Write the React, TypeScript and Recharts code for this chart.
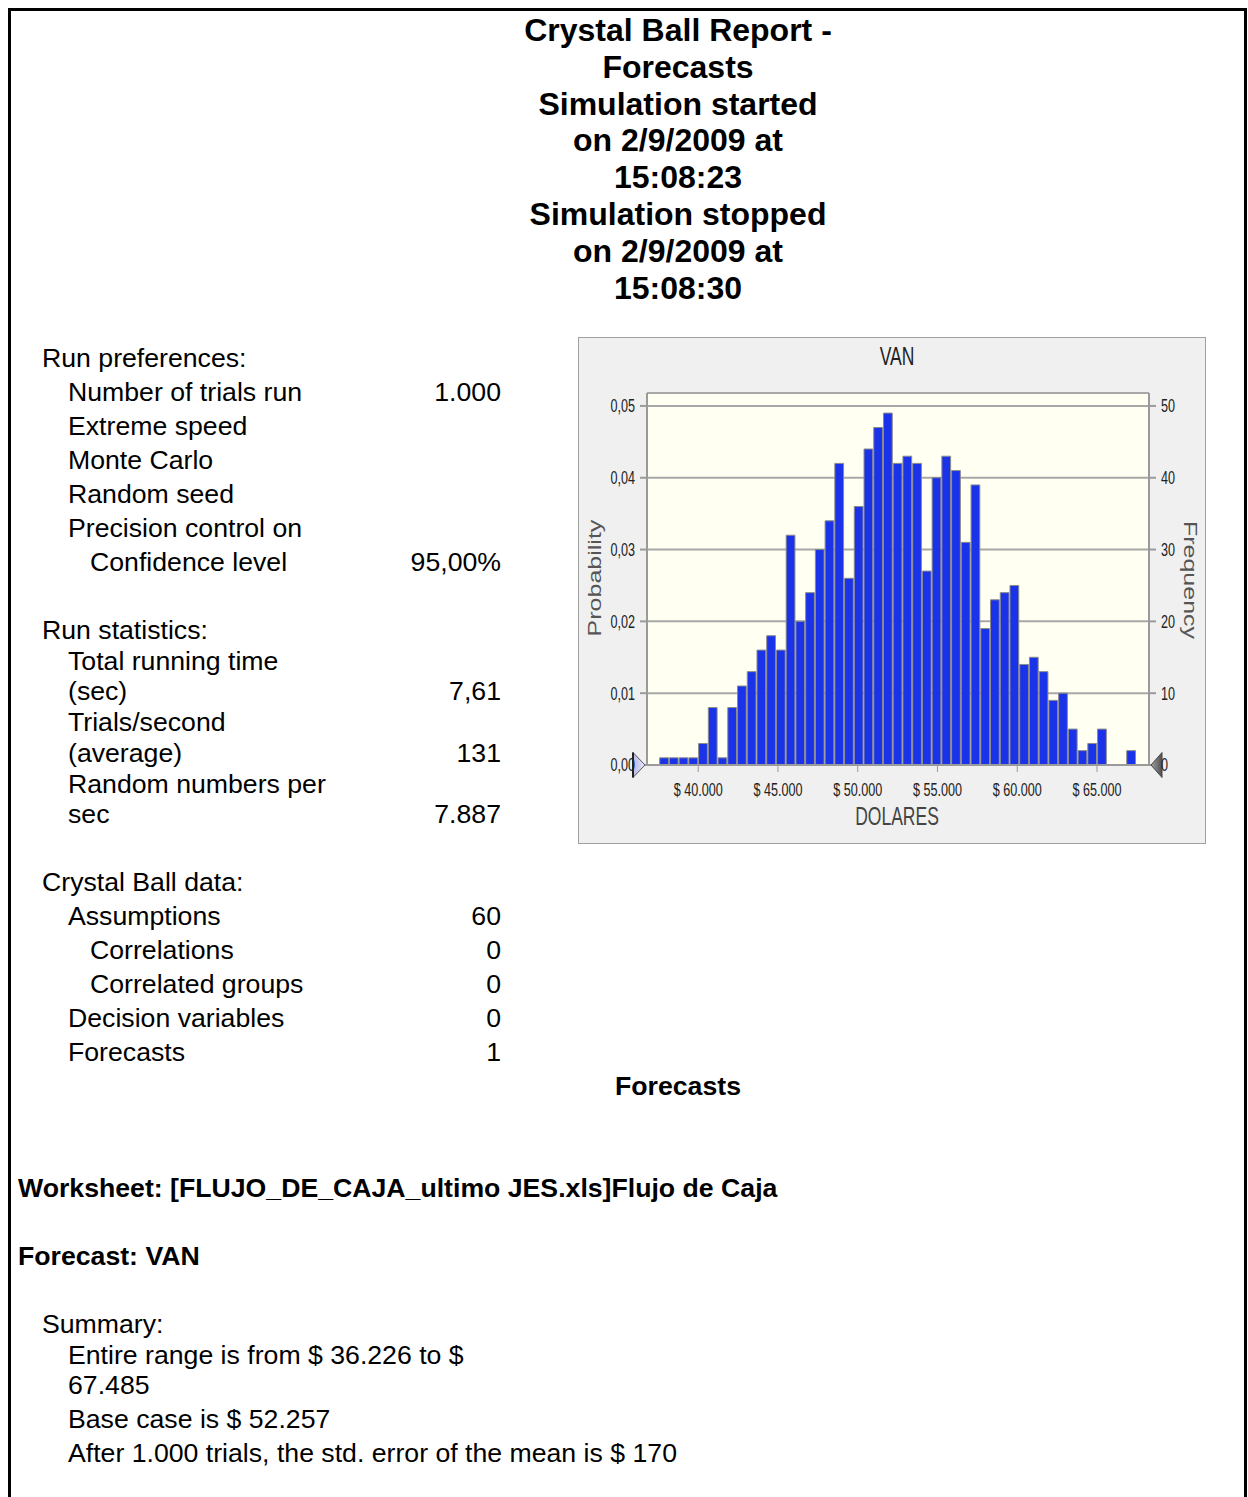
import React from 'react';
import { ComposedChart, Bar, XAxis, YAxis, CartesianGrid, ReferenceDot } from 'recharts';

// ---- Histogram data (VAN forecast, 1.000 trials) ----
const FREQUENCIES = [
  1, 1, 1, 1, 3, 8, 1, 8, 11, 13,
  16, 18, 16, 32, 20, 24, 30, 34, 42, 26,
  36, 44, 47, 49, 42, 43, 42, 27, 40, 43,
  41, 31, 39, 19, 23, 24, 25, 14, 15, 13,
  9, 10, 5, 2, 3, 5, 0, 0, 2,
];
const HIST_START = 37585;
const BIN_WIDTH = 610;
const TRIALS = 1000;
const X_MIN = 36790;
const X_MAX = 68260;
const X_TICKS = [40000, 45000, 50000, 55000, 60000, 65000];
const FREQ_TICKS = [0, 10, 20, 30, 40, 50];
const PROB_TICKS = [0, 0.01, 0.02, 0.03, 0.04, 0.05];
const FREQ_TOP = 51.8;

// ---- Report text ----
const TITLE_LINES = [
  'Crystal Ball Report -',
  'Forecasts',
  'Simulation started',
  'on 2/9/2009 at',
  '15:08:23',
  'Simulation stopped',
  'on 2/9/2009 at',
  '15:08:30',
];

const data = FREQUENCIES.map((f, i) => ({ mid: HIST_START + (i + 0.5) * BIN_WIDTH, freq: f }));

const SANS = "'Liberation Sans', Arial, sans-serif";
const SQ = 0.7; // horizontal squeeze of the chart's lettering

const CHART_W = 626;
const CHART_H = 505;
const MARGIN = { top: 55, right: 26, bottom: 38, left: 38 };
const PLOT_W = CHART_W - MARGIN.left - MARGIN.right - 60;
const BAR_PX = (BIN_WIDTH * PLOT_W) / (X_MAX - X_MIN);

const fmtMoney = (v: number) => '$ ' + String(Math.round(v / 1000)) + '.000';
const fmtProb = (v: number) => v.toFixed(2).replace('.', ',');

const XTick = (props: any) => {
  const { x, y, payload } = props;
  return (
    <g transform={`translate(${x},${y})`}>
      <text
        x={0}
        y={0}
        dy="0.71em"
        textAnchor="middle"
        transform={`scale(${SQ},1)`}
        fontSize={18}
        fill="#222"
        fontFamily={SANS}
      >
        {fmtMoney(payload.value)}
      </text>
    </g>
  );
};

const LeftTick = (props: any) => {
  const { x, y, payload } = props;
  return (
    <g transform={`translate(${x},${y})`}>
      <text
        x={0}
        y={0}
        dy="0.355em"
        textAnchor="end"
        transform={`scale(${SQ},1)`}
        fontSize={18}
        fill="#222"
        fontFamily={SANS}
      >
        {fmtProb(payload.value)}
      </text>
    </g>
  );
};

const RightTick = (props: any) => {
  const { x, y, payload } = props;
  return (
    <g transform={`translate(${x},${y})`}>
      <text
        x={0}
        y={0}
        dy="0.355em"
        textAnchor="start"
        transform={`scale(${SQ},1)`}
        fontSize={18}
        fill="#222"
        fontFamily={SANS}
      >
        {payload.value}
      </text>
    </g>
  );
};

const LeftGrabber = (props: any) => {
  const { cx, cy } = props;
  if (cx == null || cy == null) return null;
  const tx = cx - 2;
  return (
    <g>
      <polygon
        points={`${tx - 12},${cy - 12.5} ${tx},${cy} ${tx - 12},${cy + 12.5}`}
        fill="url(#gradLeft)"
        stroke="#555"
        strokeWidth={1}
      />
      <line x1={tx - 12} y1={cy - 12.5} x2={tx - 12} y2={cy + 12.5} stroke="#222" strokeWidth={2} />
    </g>
  );
};

const RightGrabber = (props: any) => {
  const { cx, cy } = props;
  if (cx == null || cy == null) return null;
  const tx = cx + 2;
  return (
    <polygon
      points={`${tx + 11},${cy - 12.5} ${tx},${cy} ${tx + 11},${cy + 12.5}`}
      fill="url(#gradRight)"
      stroke="#444"
      strokeWidth={1}
    />
  );
};

const Txt = (p: {
  x: number;
  y: number;
  children: React.ReactNode;
  bold?: boolean;
  align?: 'left' | 'right' | 'center';
}) => {
  const base: React.CSSProperties = {
    position: 'absolute',
    top: p.y - 15,
    lineHeight: '30px',
    fontSize: '26.67px',
    fontFamily: SANS,
    fontWeight: p.bold ? 700 : 400,
    whiteSpace: 'nowrap',
    color: '#000',
  };
  if (p.align === 'right') return <div style={{ ...base, right: 1248 - p.x }}>{p.children}</div>;
  if (p.align === 'center')
    return <div style={{ ...base, left: p.x - 400, width: 800, textAlign: 'center' }}>{p.children}</div>;
  return <div style={{ ...base, left: p.x }}>{p.children}</div>;
};

const chartLabel = (cx: number, cy: number, size: number, color: string, transform: string): React.CSSProperties => ({
  position: 'absolute',
  left: cx - 100,
  top: cy - 15,
  width: 200,
  lineHeight: '30px',
  textAlign: 'center',
  fontFamily: SANS,
  fontSize: size,
  color,
  transform,
  whiteSpace: 'nowrap',
});

const VanChart = () => (
  <div
    style={{
      position: 'absolute',
      left: 578,
      top: 337,
      width: 628,
      height: 507,
      boxSizing: 'border-box',
      border: '1px solid #a0a0a0',
      background: '#f0f0f0',
    }}
  >
    <ComposedChart width={CHART_W} height={CHART_H} data={data} margin={MARGIN} barCategoryGap={0} barGap={0}>
      <defs>
        <linearGradient id="gradLeft" x1="0" y1="0" x2="1" y2="0">
          <stop offset="0%" stopColor="#b8b8e8" />
          <stop offset="100%" stopColor="#e8e8fa" />
        </linearGradient>
        <linearGradient id="gradRight" x1="0" y1="0" x2="1" y2="0">
          <stop offset="0%" stopColor="#a0a0a0" />
          <stop offset="100%" stopColor="#505050" />
        </linearGradient>
      </defs>
      <CartesianGrid
        yAxisId="freq"
        vertical={false}
        horizontal
        stroke="#a8a8a8"
        strokeWidth={2}
        fill="#fffff2"
      />
      <XAxis
        dataKey="mid"
        type="number"
        domain={[X_MIN, X_MAX]}
        ticks={X_TICKS}
        allowDataOverflow
        tick={(p: any) => <XTick {...p} />}
        tickSize={7}
        tickMargin={11}
        axisLine={{ stroke: '#9a9a9a', strokeWidth: 2 }}
        tickLine={{ stroke: '#9a9a9a', strokeWidth: 1 }}
        height={40}
      />
      <YAxis
        yAxisId="prob"
        orientation="left"
        type="number"
        domain={[0, FREQ_TOP / TRIALS]}
        ticks={PROB_TICKS}
        allowDataOverflow
        tick={(p: any) => <LeftTick {...p} />}
        tickSize={7}
        tickMargin={5}
        axisLine={{ stroke: '#9a9a9a', strokeWidth: 2 }}
        tickLine={{ stroke: '#9a9a9a', strokeWidth: 2 }}
        width={30}
      />
      <YAxis
        yAxisId="freq"
        orientation="right"
        type="number"
        domain={[0, FREQ_TOP]}
        ticks={FREQ_TICKS}
        allowDataOverflow
        tick={(p: any) => <RightTick {...p} />}
        tickSize={7}
        tickMargin={5}
        axisLine={{ stroke: '#9a9a9a', strokeWidth: 2 }}
        tickLine={{ stroke: '#9a9a9a', strokeWidth: 2 }}
        width={30}
      />
      <Bar
        yAxisId="freq"
        dataKey="freq"
        fill="#1a33e8"
        stroke="#8a8a8a"
        strokeWidth={1}
        barSize={BAR_PX}
        isAnimationActive={false}
      />
      <ReferenceDot yAxisId="freq" x={X_MIN} y={0} r={0} ifOverflow="visible" shape={LeftGrabber} />
      <ReferenceDot yAxisId="freq" x={X_MAX} y={0} r={0} ifOverflow="visible" shape={RightGrabber} />
    </ComposedChart>
    <div style={chartLabel(318, 18, 25, '#222', `scaleX(${SQ})`)}>VAN</div>
    <div style={chartLabel(318, 478, 25, '#444', `scaleX(${SQ})`)}>DOLARES</div>
    <div style={chartLabel(16, 240, 25, '#555', `rotate(-90deg) scaleY(${SQ})`)}>Probability</div>
    <div style={chartLabel(611, 242, 25, '#555', `rotate(90deg) scaleY(${SQ})`)}>Frequency</div>
  </div>
);

export default function App() {
  return (
    <div
      style={{
        position: 'absolute',
        left: 0,
        top: 0,
        width: 1248,
        height: 1497,
        overflow: 'hidden',
        background: '#fff',
        fontFamily: SANS,
      }}
    >
      <div
        style={{
          position: 'absolute',
          left: 8,
          top: 8,
          width: 1239,
          height: 1600,
          boxSizing: 'border-box',
          border: '3px solid #000',
        }}
      />
      {TITLE_LINES.map((line, i) => (
        <div
          key={i}
          style={{
            position: 'absolute',
            left: 278,
            width: 800,
            top: 12 + i * 36.8,
            lineHeight: '36.8px',
            textAlign: 'center',
            fontSize: 32,
            fontWeight: 700,
            fontFamily: SANS,
            whiteSpace: 'nowrap',
          }}
        >
          {line}
        </div>
      ))}

      <Txt x={42} y={358}>Run preferences:</Txt>
      <Txt x={68} y={392}>Number of trials run</Txt>
      <Txt x={501} y={392} align="right">1.000</Txt>
      <Txt x={68} y={426}>Extreme speed</Txt>
      <Txt x={68} y={460}>Monte Carlo</Txt>
      <Txt x={68} y={494}>Random seed</Txt>
      <Txt x={68} y={528}>Precision control on</Txt>
      <Txt x={90} y={562}>Confidence level</Txt>
      <Txt x={501} y={562} align="right">95,00%</Txt>

      <Txt x={42} y={630}>Run statistics:</Txt>
      <Txt x={68} y={661}>Total running time</Txt>
      <Txt x={68} y={691}>(sec)</Txt>
      <Txt x={501} y={691} align="right">7,61</Txt>
      <Txt x={68} y={722}>Trials/second</Txt>
      <Txt x={68} y={753}>(average)</Txt>
      <Txt x={501} y={753} align="right">131</Txt>
      <Txt x={68} y={784}>Random numbers per</Txt>
      <Txt x={68} y={814}>sec</Txt>
      <Txt x={501} y={814} align="right">7.887</Txt>

      <Txt x={42} y={882}>Crystal Ball data:</Txt>
      <Txt x={68} y={916}>Assumptions</Txt>
      <Txt x={501} y={916} align="right">60</Txt>
      <Txt x={90} y={950}>Correlations</Txt>
      <Txt x={501} y={950} align="right">0</Txt>
      <Txt x={90} y={984}>Correlated groups</Txt>
      <Txt x={501} y={984} align="right">0</Txt>
      <Txt x={68} y={1018}>Decision variables</Txt>
      <Txt x={501} y={1018} align="right">0</Txt>
      <Txt x={68} y={1052}>Forecasts</Txt>
      <Txt x={501} y={1052} align="right">1</Txt>

      <Txt x={678} y={1086} align="center" bold>Forecasts</Txt>
      <Txt x={18} y={1188} bold>Worksheet: [FLUJO_DE_CAJA_ultimo JES.xls]Flujo de Caja</Txt>
      <Txt x={18} y={1256} bold>Forecast: VAN</Txt>

      <Txt x={42} y={1324}>Summary:</Txt>
      <Txt x={68} y={1355}>Entire range is from $ 36.226 to $</Txt>
      <Txt x={68} y={1385}>67.485</Txt>
      <Txt x={68} y={1419}>Base case is $ 52.257</Txt>
      <Txt x={68} y={1453}>After 1.000 trials, the std. error of the mean is $ 170</Txt>

      <VanChart />
    </div>
  );
}
